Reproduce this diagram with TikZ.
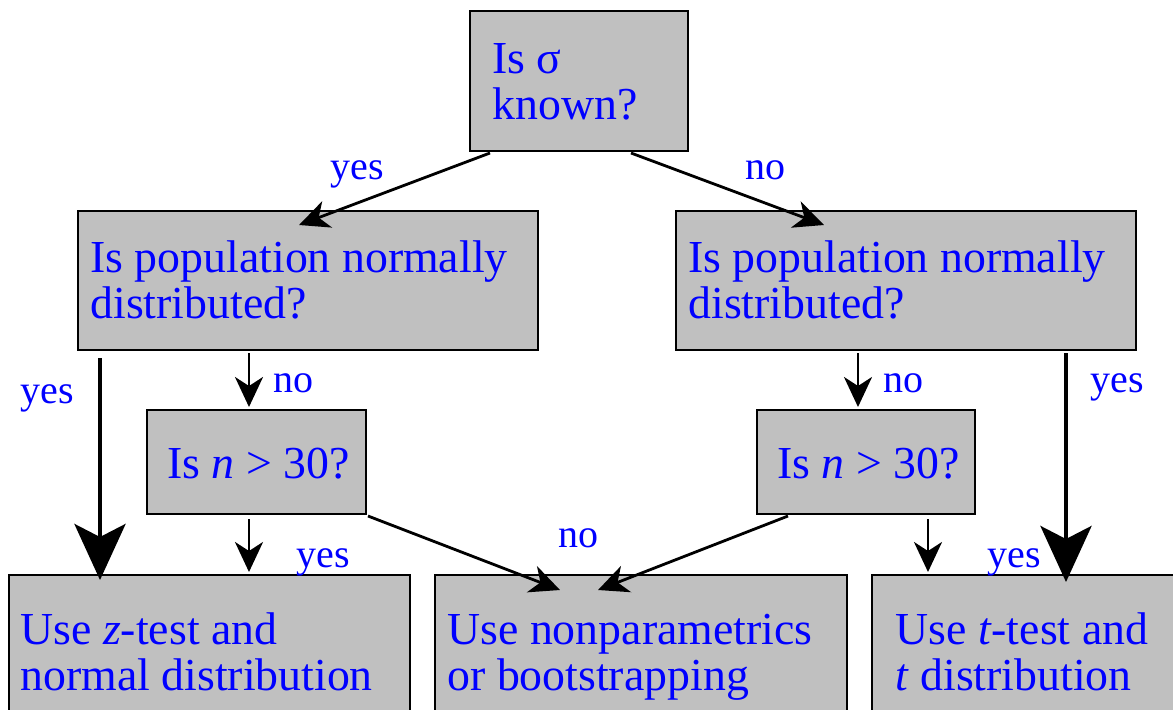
\documentclass[tikz,border=0pt]{standalone}
\usepackage{fontspec}
\setmainfont{Liberation Serif}
\usetikzlibrary{arrows.meta,calc}
\definecolor{boxgray}{RGB}{192,192,192}
\definecolor{txtblue}{RGB}{0,0,255}
\tikzset{
  box/.style={draw=black, line width=1pt, fill=boxgray, inner sep=0pt, outer sep=0pt, anchor=north west},
  txt/.style={text=txtblue, font=\fontsize{22.9}{23}\selectfont, inner sep=0pt, anchor=base west},
  lbl/.style={text=txtblue, font=\fontsize{20}{20}\selectfont, inner sep=0pt, anchor=base west},
  conn/.style={line width=1.4pt, -{Stealth[length=15pt,width=14pt,inset=4.5pt]}},
  bigconn/.style={line width=2.2pt, -{Stealth[length=28pt,width=25.5pt,inset=6.5pt]}},
}
\newcommand{\twolines}[2]{\begin{tabular}[t]{@{}l@{}}#1\\#2\end{tabular}}
\begin{document}
\begin{tikzpicture}[x=0.5pt,y=-0.5pt]
\useasboundingbox (0,0) rectangle (1173,709);
\clip (0,0) rectangle (1173,709);
% boxes
\node[box, minimum width=109pt, minimum height=70pt] (q1) at (470,11) {};
\node[box, minimum width=230pt, minimum height=69.5pt] (q2L) at (78,211) {};
\node[box, minimum width=230pt, minimum height=69.5pt] (q2R) at (676,211) {};
\node[box, minimum width=109.5pt, minimum height=52pt] (q3L) at (147,410) {};
\node[box, minimum width=109pt, minimum height=52pt] (q3R) at (757,410) {};
\node[box, minimum width=200.5pt, minimum height=75pt] (rL) at (9,575) {};
\node[box, minimum width=206pt, minimum height=75pt] (rM) at (435,575) {};
\node[box, minimum width=155pt, minimum height=75pt] (rR) at (872,575) {};
% texts
\node[txt] (q1t) at (492,73) {\twolines{Is σ}{known?}};
\node[txt] (q2Lt) at (90,272) {\twolines{Is population normally}{distributed?}};
\node[txt] (q2Rt) at (688,272) {\twolines{Is population normally}{distributed?}};
\node[txt] (q3Lt) at (167,478) {Is \textit{n} > 30?};
\node[txt] (q3Rt) at (777,478) {Is \textit{n} > 30?};
\node[txt] (rLt) at (20,644) {\twolines{Use \textit{z}-test and}{normal distribution}};
\node[txt] (rMt) at (447,644) {\twolines{Use nonparametrics}{or bootstrapping}};
\node[txt] (rRt) at (895,644) {\twolines{Use \textit{t}-test and}{\textit{t} distribution}};
% connectors
\draw[conn] ($(q1.south west)+(20,2)$) -- ($(q2L.north west)+(221,14)$);
\draw[conn] ($(q1.south west)+(161,2)$) -- ($(q2R.north west)+(148,14)$);
\draw[bigconn] ($(q2L.south west)+(22,8)$) -- ($(rL.north west)+(91,5)$);
\draw[conn] ($(q2L.south west)+(171,3)$) -- ($(q3L.north west)+(102,-3)$);
\draw[conn] ($(q3L.south west)+(102,5)$) -- ($(rL.north west)+(240,-3)$);
\draw[conn] ($(q3L.south east)+(2,2)$) -- ($(rM.north west)+(125,15)$);
\draw[conn] ($(q3R.south west)+(31,2)$) -- ($(rM.north west)+(163,15)$);
\draw[conn] ($(q2R.south west)+(182,3)$) -- ($(q3R.north west)+(101,-3)$);
\draw[conn] ($(q3R.south west)+(171,5)$) -- ($(rR.north west)+(56,-3)$);
\draw[bigconn] ($(q2R.south west)+(390,3)$) -- ($(rR.north west)+(194,7)$);
% labels
\node[lbl] (l1) at (330,179) {yes};
\node[lbl] (l2) at (745,179) {no};
\node[lbl] (l3) at (20,403) {yes};
\node[lbl] (l4) at (273,392) {no};
\node[lbl] (l5) at (296,567) {yes};
\node[lbl] (l6) at (558,547) {no};
\node[lbl] (l7) at (883,392) {no};
\node[lbl] (l8) at (1090,392) {yes};
\node[lbl] (l9) at (987,567) {yes};
\end{tikzpicture}
\end{document}
